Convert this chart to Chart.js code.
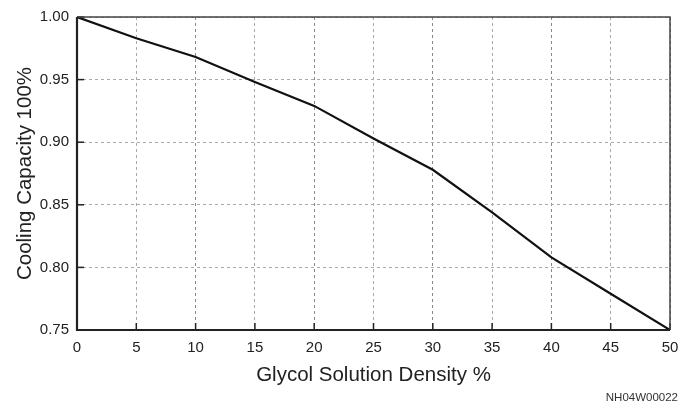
<!DOCTYPE html>
<html>
<head>
<meta charset="utf-8">
<script src="https://cdn.jsdelivr.net/npm/chart.js@4/dist/chart.umd.min.js"></script>
<style>
html,body{margin:0;padding:0;background:#fff;}
#wrap{width:681px;height:409px;position:relative;}
</style>
</head>
<body>
<div id="wrap"><canvas id="c" width="681" height="409"></canvas></div>
<script>
const densities = [0, 5, 10, 15, 20, 25, 30, 35, 40, 45, 50];
const capacity = [1.0, 0.983, 0.968, 0.948, 0.929, 0.903, 0.878, 0.844, 0.808, 0.779, 0.75];
const xTicks = [0, 5, 10, 15, 20, 25, 30, 35, 40, 45, 50];
const yTicks = [0.75, 0.80, 0.85, 0.90, 0.95, 1.00];
const xTitle = "Glycol Solution Density %";
const yTitle = "Cooling Capacity 100%";
const figureCode = "NH04W00022";

const FONT = "'Liberation Sans', Arial, sans-serif";

const frame = {
  id: 'frame',
  afterDraw(chart) {
    const {ctx, chartArea: a, scales: {x, y}} = chart;
    ctx.save();
    ctx.strokeStyle = '#222';
    ctx.lineWidth = 1.5;
    xTicks.forEach(v => {
      const px = x.getPixelForValue(v);
      ctx.beginPath(); ctx.moveTo(px, a.bottom); ctx.lineTo(px, a.bottom - 7); ctx.stroke();
    });
    yTicks.forEach(v => {
      const py = y.getPixelForValue(v);
      ctx.beginPath(); ctx.moveTo(a.left, py); ctx.lineTo(a.left + 7, py); ctx.stroke();
    });
    ctx.strokeStyle = '#444';
    ctx.lineWidth = 1.5;
    ctx.beginPath(); ctx.moveTo(a.left, a.top); ctx.lineTo(a.right, a.top); ctx.lineTo(a.right, a.bottom); ctx.stroke();
    ctx.strokeStyle = '#222';
    ctx.lineWidth = 2.2;
    ctx.beginPath(); ctx.moveTo(a.left, a.top); ctx.lineTo(a.left, a.bottom); ctx.lineTo(a.right, a.bottom); ctx.stroke();
    ctx.fillStyle = '#333';
    ctx.font = "11.5px " + FONT;
    ctx.textAlign = 'right';
    ctx.textBaseline = 'middle';
    ctx.fillText(figureCode, 678, 398);
    ctx.restore();
  }
};

new Chart(document.getElementById('c'), {
  type: 'line',
  data: {
    datasets: [{
      data: densities.map((d, i) => ({x: d, y: capacity[i]})),
      borderColor: '#111',
      borderWidth: 2.2,
      pointRadius: 0,
      tension: 0,
      fill: false
    }]
  },
  options: {
    responsive: false,
    animation: false,
    devicePixelRatio: 1,
    layout: {padding: {top: 17, right: 11, left: 9, bottom: 17}},
    plugins: {legend: {display: false}, tooltip: {enabled: false}},
    scales: {
      x: {
        type: 'linear', min: 0, max: 50,
        afterBuildTicks: s => { s.ticks = xTicks.map(v => ({value: v})); },
        afterFit: s => { s.height = 62; s.paddingRight = 0; s.paddingLeft = 0; },
        border: {display: false, dash: [3, 3]},
        grid: {
          color: ctx => (ctx.tick && ctx.tick.value % 10 === 0) ? '#888' : '#aaa',
          lineWidth: 1, drawTicks: false
        },
        ticks: {color: '#222', font: {family: FONT, size: 15}, padding: 9, maxRotation: 0},
        title: {display: true, text: xTitle, color: '#222', font: {family: FONT, size: 20.5}}
      },
      y: {
        type: 'linear', min: 0.75, max: 1.0,
        afterBuildTicks: s => { s.ticks = yTicks.map(v => ({value: v})); },
        afterFit: s => { s.width = 68; },
        border: {display: false, dash: [3, 3]},
        grid: {color: '#aaa', lineWidth: 1, drawTicks: false},
        ticks: {color: '#222', font: {family: FONT, size: 15}, padding: 8, callback: v => v.toFixed(2)},
        title: {display: true, text: yTitle, color: '#222', font: {family: FONT, size: 20.5}}
      }
    }
  },
  plugins: [frame]
});
</script>
</body>
</html>
